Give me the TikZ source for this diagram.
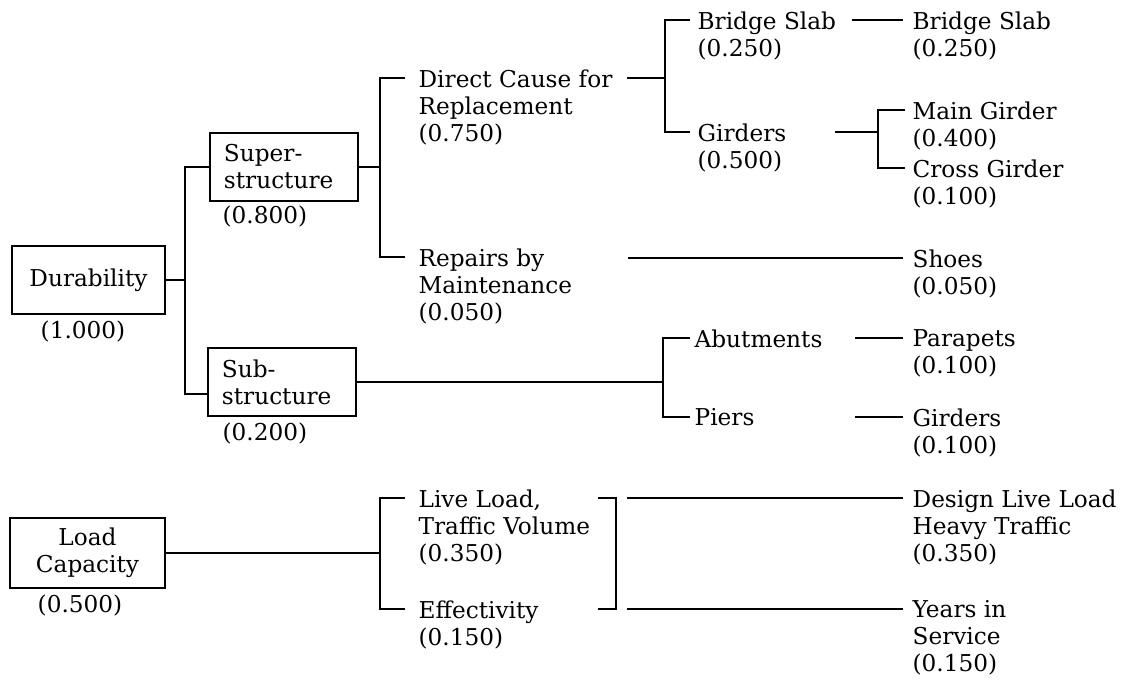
\documentclass[tikz,border=0pt]{standalone}
\usepackage{fontspec}
\setmainfont{DejaVu Serif}
\newcommand{\lblfont}{\fontsize{16.5}{19.2}\selectfont}

\begin{document}
\begin{tikzpicture}[x=0.025cm, y=-0.025cm, line width=0.9pt, font=\lblfont,
  lbl/.style={anchor=north west, align=left, inner sep=0pt},
  wgt/.style={inner sep=0pt},
  box/.style={draw, align=center, inner sep=0pt, minimum height=1.7cm},
  lbox/.style={draw, align=left, text width=3cm, inner xsep=0.35cm, inner ysep=0pt, minimum height=1.7cm}]
  \useasboundingbox (0,0) rectangle (1128,681);

  % criteria boxes
  \node[box, minimum width=3.825cm] (dur) at (88.5,280) {Durability};
  \node[lbox] (super) at (284,167) {Super-\\structure};
  \node[lbox] (sub) at (282,382) {Sub-\\structure};
  \node[box, minimum width=3.875cm, minimum height=1.75cm] (load) at (87.5,553) {Load\\Capacity};
  \node[wgt] (durw) at (83,331) {(1.000)};
  \node[wgt, anchor=west] (superw) at (222,216) {(0.800)};
  \node[wgt, anchor=west] (subw) at (222,433) {(0.200)};
  \node[wgt] (loadw) at (80,605) {(0.500)};

  % items
  \node[lbl] (bs1) at (697,11) {Bridge Slab\\(0.250)};
  \node[lbl] (bs2) at (912,11) {Bridge Slab\\(0.250)};
  \node[lbl] (dcr) at (418,69) {Direct Cause for\\Replacement\\(0.750)};
  \node[lbl] (gd1) at (697,123) {Girders\\(0.500)};
  \node[lbl] (mg) at (912,101) {Main Girder\\(0.400)};
  \node[lbl] (cg) at (912,159) {Cross Girder\\(0.100)};
  \node[lbl] (rbm) at (418,248) {Repairs by\\Maintenance\\(0.050)};
  \node[lbl] (shoes) at (912,249) {Shoes\\(0.050)};
  \node[lbl] (abt) at (694,329) {Abutments};
  \node[lbl] (piers) at (694,408) {Piers};
  \node[lbl] (par) at (912,329) {Parapets\\(0.100)};
  \node[lbl] (gd2) at (912,408) {Girders\\(0.100)};
  \node[lbl] (llt) at (418,489) {Live Load,\\Traffic Volume\\(0.350)};
  \node[lbl] (eff) at (418,600) {Effectivity\\(0.150)};
  \node[lbl] (dll) at (912,489) {Design Live Load\\Heavy Traffic\\(0.350)};
  \node[lbl] (yis) at (912,600) {Years in\\Service\\(0.150)};

  % bracket corners and stub ends
  \coordinate (b0) at (185,280);
  \coordinate (b1) at (380,167);
  \coordinate (b2) at (665,78);
  \coordinate (b3) at (878,132);
  \coordinate (b4) at (663,382);
  \coordinate (b5) at (380,553);
  \coordinate (b6) at (616,553);
  \coordinate (dcrW) at (405,78);
  \coordinate (dcrE) at (627,78);
  \coordinate (rbmW) at (405,257);
  \coordinate (rbmE) at (628,258);
  \coordinate (shoesW) at (903,258);
  \coordinate (bs1W) at (690,20);
  \coordinate (bs1E) at (852,20);
  \coordinate (bs2W) at (903,20);
  \coordinate (gd1W) at (690,132);
  \coordinate (gd1E) at (835,132);
  \coordinate (mgW) at (905,110);
  \coordinate (cgW) at (905,168);
  \coordinate (abtW) at (690,338);
  \coordinate (abtE) at (855,338);
  \coordinate (parW) at (903,338);
  \coordinate (piersW) at (690,417);
  \coordinate (piersE) at (855,417);
  \coordinate (gd2W) at (903,417);
  \coordinate (lltW) at (405,498);
  \coordinate (lltE) at (598,498);
  \coordinate (effW) at (405,609);
  \coordinate (effE) at (598,609);
  \coordinate (dllL) at (627,498);
  \coordinate (dllW) at (903,498);
  \coordinate (yisL) at (627,609);
  \coordinate (yisW) at (903,609);

  % connectors
  \draw (dur.east) -- (b0);
  \draw (super.west) -| (b0) |- ([yshift=-0.3cm]sub.west);
  \draw (super.east) -- (b1);
  \draw (dcrW) -| (b1) |- (rbmW);
  \draw (dcrE) -- (b2);
  \draw (bs1W) -| (b2) |- (gd1W);
  \draw (bs1E) -- (bs2W);
  \draw (gd1E) -- (b3);
  \draw (mgW) -| (b3) |- (cgW);
  \draw (rbmE) -- (shoesW);
  \draw (sub.east) -- (b4);
  \draw (abtW) -| (b4) |- (piersW);
  \draw (abtE) -- (parW);
  \draw (piersE) -- (gd2W);
  \draw (load.east) -- (b5);
  \draw (lltW) -| (b5) |- (effW);
  \draw (lltE) -| (b6) |- (effE);
  \draw (dllL) -- (dllW);
  \draw (yisL) -- (yisW);
\end{tikzpicture}
\end{document}
